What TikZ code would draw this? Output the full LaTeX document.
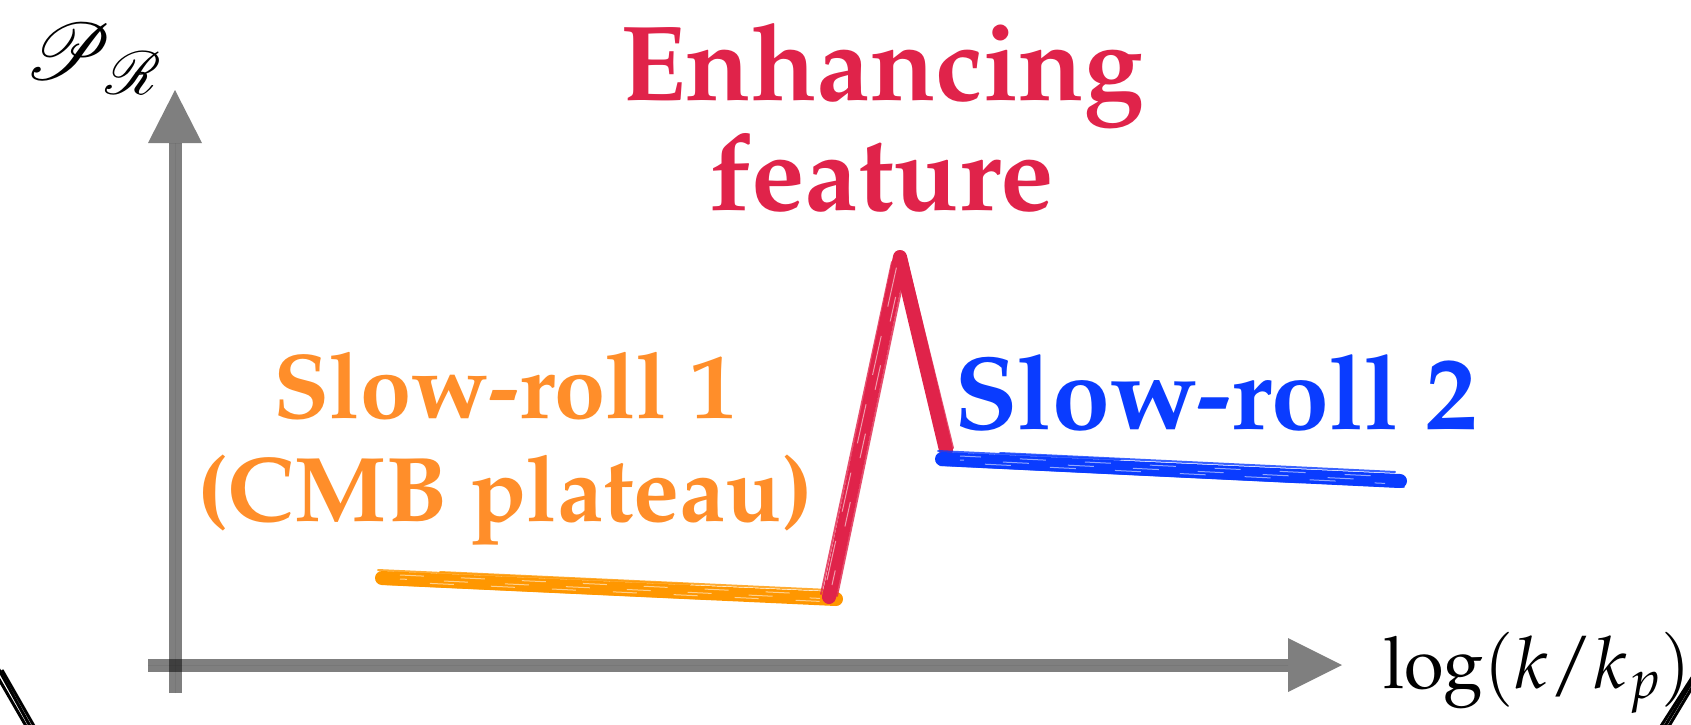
\documentclass[tikz,border=0pt]{standalone}
\usepackage[T1]{fontenc}
\usepackage{mathpazo}
\DeclareFontFamily{U}{rsfs}{\skewchar\font127 }
\DeclareFontShape{U}{rsfs}{m}{n}{<-> rsfs10}{}
\usepackage{mathrsfs}
\usetikzlibrary{arrows.meta}
\definecolor{peakred}{HTML}{E0234A}
\definecolor{srone}{HTML}{FF8E2A}
\definecolor{sronestroke}{HTML}{FF9700}
\definecolor{srtwo}{HTML}{0A3CFF}
\tikzset{
  axisline/.style={draw=black, fill=black, opacity=0.5, line width=13pt},
  bigtext/.style={inner sep=0pt, align=center},
  brushcore/.style={line width=#1, line cap=round, line join=round},
  brushhair/.style={line width=2pt, line cap=round, opacity=0.8},
  brushgap/.style={draw=white, line width=1pt, opacity=0.55},
  rim/.style={draw=black, line width=3pt}
}
\begin{document}
\begin{tikzpicture}[x=1pt, y=-1pt]
\useasboundingbox (0,0) rectangle (1691,724);

% axes
\draw[axisline, -{Triangle[length=53pt, width=54pt, line width=0pt]}] (175,693) -- (175,90);
\draw[axisline, -{Triangle[length=54pt, width=54pt, line width=0pt]}] (148,665) -- (1342,665);

% axis labels
\node[inner sep=0pt, anchor=base west, font=\fontsize{80}{90}\selectfont] (ylab) at (24,79) {$\mathscr{P}_{\mathscr{R}}$};
\node[inner sep=0pt, anchor=base west, font=\fontsize{72}{80}\selectfont] (xlab) at (1383,688) {$\log(k/k_p)$};

% slow-roll 1 plateau
\draw[brushcore=14pt, sronestroke] (382,578) -- (836,599);
\foreach \dy/\sx/\ex in {-8/378/690, -6/440/838, 6/385/700, 8/520/826, 9/600/790}
  \draw[brushhair, sronestroke] (\sx,578+\dy) -- (\ex,{578+\dy+(\ex-\sx)*21/454});
\foreach \dy/\ph in {-3/0, 1/17, 4/31}
  \draw[brushgap, dash pattern=on 24pt off 37pt, dash phase=\ph pt] (400,578+\dy) -- (820,{578+\dy+19.4});

% enhancing peak
\draw[brushcore=14pt, peakred] (829,597) -- (900,257) -- (946,450);
\draw[brushhair, peakred] (821,594) -- (892,262);
\draw[brushhair, peakred] (837,596) -- (907,262) -- (953,448);
\draw[brushgap, dash pattern=on 40pt off 30pt] (827,580) -- (897,265);
\draw[brushgap, dash pattern=on 25pt off 45pt, dash phase=10pt] (832,585) -- (902,268);

% slow-roll 2 plateau
\draw[brushcore=14pt, srtwo] (942,459) -- (1400,481);
\foreach \dy/\sx/\ex in {-8/938/1120, -6/1000/1395, 6/940/1300, 8/990/1404, 9/1150/1380}
  \draw[brushhair, srtwo] (\sx,459+\dy) -- (\ex,{459+\dy+(\ex-\sx)*22/458});
\foreach \dy/\ph in {-3/5, 1/22, 4/40}
  \draw[brushgap, dash pattern=on 26pt off 39pt, dash phase=\ph pt] (960,459+\dy) -- (1385,{459+\dy+20.4});

% region labels (anchored at the baseline of their last line)
\node[bigtext, text=peakred, anchor=base, font=\bfseries\fontsize{107}{110}\selectfont] (peak) at (882,210) {Enhancing\\feature};
\node[bigtext, text=srone, anchor=base, font=\bfseries\fontsize{92}{103}\selectfont] (sr1) at (505,521) {Slow-roll 1\\(CMB plateau)};
\node[bigtext, text=srtwo, anchor=base west, font=\bfseries\fontsize{104}{110}\selectfont] (sr2) at (954,429) {Slow-roll 2};

% rim strokes in the corners
\draw[rim] (-2,668) -- (30,726);
\draw[rim] (2,670) -- (34,726);
\draw[rim] (-4,674) -- (26,726);
\draw[rim] (1665,726) -- (1693,680);
\draw[rim] (1669,726) -- (1693,686);
\draw[rim] (1661,726) -- (1693,676);
\end{tikzpicture}
\end{document}
